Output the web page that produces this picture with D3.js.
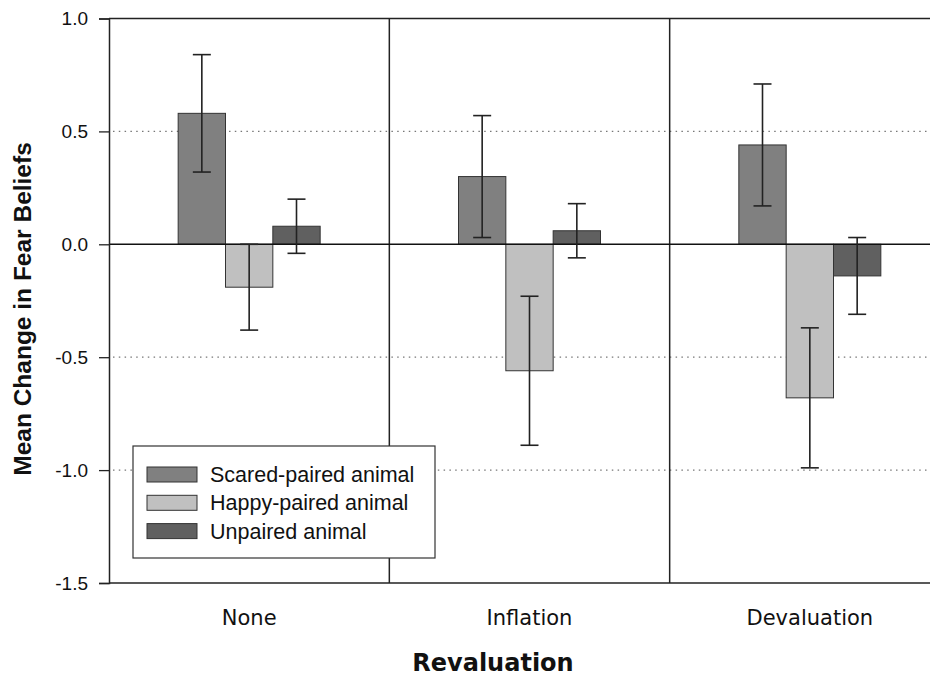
<!DOCTYPE html>
<html>
<head>
<meta charset="utf-8">
<script src="https://cdn.jsdelivr.net/npm/d3@7"></script>
<style>
  body { margin: 0; background: #fff; }
  .chart svg { display: block; }
</style>
</head>
<body>
<div class="chart"></div>
<script>
// === Data ===
const categories = ["None", "Inflation", "Devaluation"];
const seriesNames = ["Scared-paired animal", "Happy-paired animal", "Unpaired animal"];
const scaredMeans = [0.58, 0.30, 0.44];
const scaredErr = [0.26, 0.27, 0.27];
const happyMeans = [-0.19, -0.56, -0.68];
const happyErr = [0.19, 0.33, 0.31];
const unpairedMeans = [0.08, 0.06, -0.14];
const unpairedErr = [0.12, 0.12, 0.17];
const yTicks = [-1.5, -1.0, -0.5, 0.0, 0.5, 1.0];
const gridTicks = [-1.0, -0.5, 0.5];
const colors = ["#808080", "#c0c0c0", "#606060"];

// rows for drawing
const means = [scaredMeans, happyMeans, unpairedMeans];
const errs = [scaredErr, happyErr, unpairedErr];
const rows = [];
categories.forEach((c, i) => {
  seriesNames.forEach((s, j) => {
    rows.push({cat: c, series: s, value: means[j][i], err: errs[j][i], color: colors[j]});
  });
});

// Chart init
const margin = {top: 18.5, right: -20, bottom: 95, left: 109};
const width = 930 - margin.left - margin.right;
const height = 678 - margin.top - margin.bottom;

const root = d3.select(".chart").append("svg")
  .attr("width", 930)
  .attr("height", 678);

const svg = root.append("g")
  .attr("transform", "translate(" + margin.left + "," + margin.top + ")");

// === Scales ===
const xScale = d3.scaleBand()
  .domain(categories)
  .range([0, width]);

const barGroup = 142;
const xInner = d3.scaleBand()
  .domain(seriesNames)
  .range([0, barGroup]);

const yScale = d3.scaleLinear()
  .domain([-1.5, 1.0])
  .range([height, 0]);

// gridlines (dotted)
svg.append("g")
  .selectAll("line")
  .data(gridTicks)
  .join("line")
  .attr("x1", 4)
  .attr("x2", width)
  .attr("y1", d => yScale(d))
  .attr("y2", d => yScale(d))
  .attr("stroke", "#777")
  .attr("stroke-width", 1.2)
  .attr("stroke-dasharray", "1.5,4.3");

// panel dividers
svg.append("g")
  .selectAll("line")
  .data(categories.slice(1))
  .join("line")
  .attr("x1", d => xScale(d))
  .attr("x2", d => xScale(d))
  .attr("y1", 0)
  .attr("y2", height)
  .attr("stroke", "#222")
  .attr("stroke-width", 1.5);

// top and bottom frame
svg.append("line")
  .attr("x1", 0).attr("x2", width)
  .attr("y1", yScale(1.0)).attr("y2", yScale(1.0))
  .attr("stroke", "#222").attr("stroke-width", 1.5);
svg.append("line")
  .attr("x1", 0).attr("x2", width)
  .attr("y1", yScale(-1.5)).attr("y2", yScale(-1.5))
  .attr("stroke", "#222").attr("stroke-width", 1.5);

// bars
const barX = d => xScale(d.cat) + xScale.bandwidth() / 2 - barGroup / 2 + xInner(d.series);

svg.append("g")
  .selectAll("rect")
  .data(rows)
  .join("rect")
  .attr("x", d => barX(d))
  .attr("width", xInner.bandwidth())
  .attr("y", d => yScale(Math.max(0, d.value)))
  .attr("height", d => Math.abs(yScale(d.value) - yScale(0)))
  .attr("fill", d => d.color)
  .attr("stroke", "#333")
  .attr("stroke-width", 1);

// zero line
svg.append("line")
  .attr("x1", 0).attr("x2", width)
  .attr("y1", yScale(0)).attr("y2", yScale(0))
  .attr("stroke", "#111").attr("stroke-width", 1.5);

// error bars
const eb = svg.append("g")
  .selectAll("g")
  .data(rows)
  .join("g")
  .attr("transform", d => "translate(" + (barX(d) + xInner.bandwidth() / 2) + ",0)");

eb.append("line")
  .attr("y1", d => yScale(d.value + d.err))
  .attr("y2", d => yScale(d.value - d.err))
  .attr("stroke", "#222")
  .attr("stroke-width", 1.6);

eb.selectAll(".cap")
  .data(d => [d.value + d.err, d.value - d.err])
  .join("line")
  .attr("class", "cap")
  .attr("x1", -9).attr("x2", 9)
  .attr("y1", v => yScale(v))
  .attr("y2", v => yScale(v))
  .attr("stroke", "#222")
  .attr("stroke-width", 1.6);

// === Axes ===
const yAxis = d3.axisLeft(yScale)
  .tickValues(yTicks)
  .tickFormat(d3.format(".1f"))
  .tickSize(10)
  .tickPadding(11);

const gy = svg.append("g")
  .attr("class", "y-axis")
  .call(yAxis);
gy.select(".domain").attr("stroke", "#222").attr("stroke-width", 1.5);
gy.selectAll(".tick line").attr("stroke", "#222").attr("stroke-width", 1.3);
gy.selectAll("text")
  .attr("font-family", "'Liberation Sans', Arial, sans-serif")
  .attr("font-size", "19px")
  .attr("fill", "#111")
  .text(d => d3.format(".1f")(d).replace("−", "-"));

// category labels
svg.append("g")
  .selectAll("text")
  .data(categories)
  .join("text")
  .attr("x", d => xScale(d) + xScale.bandwidth() / 2)
  .attr("y", 625 - margin.top)
  .attr("text-anchor", "middle")
  .attr("font-family", "'DejaVu Sans', Verdana, sans-serif")
  .attr("font-size", "21px")
  .attr("fill", "#111")
  .text(d => d);

// axis titles
root.append("text")
  .attr("x", 493)
  .attr("y", 671)
  .attr("text-anchor", "middle")
  .attr("font-family", "'DejaVu Sans', Verdana, sans-serif")
  .attr("font-weight", "bold")
  .attr("font-size", "24px")
  .attr("fill", "#111")
  .text("Revaluation");

root.append("text")
  .attr("transform", "translate(31,309) rotate(-90)")
  .attr("text-anchor", "middle")
  .attr("font-family", "'Liberation Sans', Arial, sans-serif")
  .attr("font-weight", "bold")
  .attr("font-size", "24.5px")
  .attr("fill", "#111")
  .text("Mean Change in Fear Beliefs");

// === Legend ===
const legend = root.append("g")
  .attr("transform", "translate(133,446)");

legend.append("rect")
  .attr("width", 302)
  .attr("height", 112)
  .attr("fill", "#fff")
  .attr("stroke", "#333")
  .attr("stroke-width", 1.2);

const items = legend.selectAll(".item")
  .data(seriesNames)
  .join("g")
  .attr("class", "item")
  .attr("transform", (d, i) => "translate(14," + (21 + i * 28.3) + ")");

items.append("rect")
  .attr("width", 50)
  .attr("height", 15)
  .attr("fill", (d, i) => colors[i])
  .attr("stroke", "#333")
  .attr("stroke-width", 1);

items.append("text")
  .attr("x", 63)
  .attr("y", 15)
  .attr("font-family", "'Liberation Sans', Arial, sans-serif")
  .attr("font-size", "21.5px")
  .attr("fill", "#111")
  .text(d => d);
</script>
</body>
</html>
